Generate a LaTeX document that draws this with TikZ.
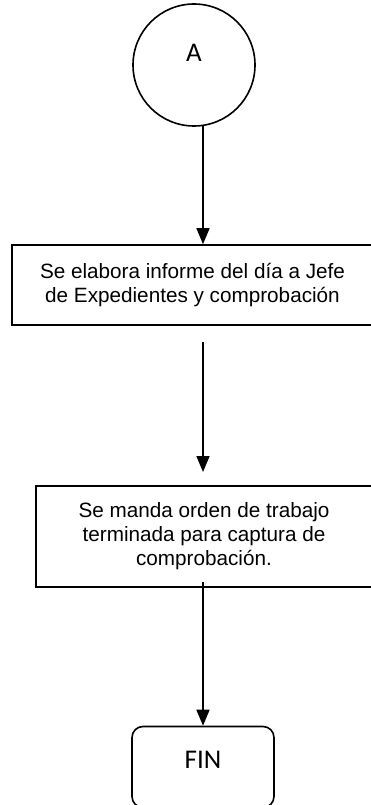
\documentclass[tikz,border=0pt]{standalone}
\usepackage{fontspec}
\setmainfont{Liberation Sans}
\newfontfamily\calfont{Carlito}
\usetikzlibrary{arrows.meta}

\begin{document}
\begin{tikzpicture}[x=1pt,y=-1pt,>={Triangle[length=16pt,width=13pt]},
  every node/.style={line width=1.6pt},
  flow/.style={->,line width=1.6pt},
  procbox/.style={draw,rectangle,align=center,inner sep=0pt,
    font=\fontsize{20.7pt}{24pt}\selectfont},
  term/.style={draw,font=\calfont\fontsize{27pt}{30pt}\selectfont,text height=17.4pt}]
  \useasboundingbox (0,0) rectangle (371,805);
  \node[term,circle,minimum size=122pt,inner sep=0pt,text depth=25pt] (a) at (194,65) {A};
  \node[procbox,minimum width=361pt,minimum height=80pt] (b1) at (192.5,285)
    {Se elabora informe del día a Jefe\\de Expedientes y comprobación};
  \node[procbox,minimum width=336pt,minimum height=101pt] (b2) at (204,536.5)
    {Se manda orden de trabajo\\terminada para captura de\\comprobación.};
  \node[term,rounded corners=11pt,minimum width=142pt,minimum height=81pt,text depth=14pt] (fin) at (203,767) {FIN};
  \coordinate (s2) at (203,342);
  \coordinate (e2) at (203,472);
  \coordinate (s3) at (203,582);
  \draw[flow] (a.-81.5 -| s2) -- (s2 |- b1.north);
  \draw[flow] (s2) -- (e2);
  \draw[flow] (s3) -- (s3 |- fin.north);
\end{tikzpicture}
\end{document}
